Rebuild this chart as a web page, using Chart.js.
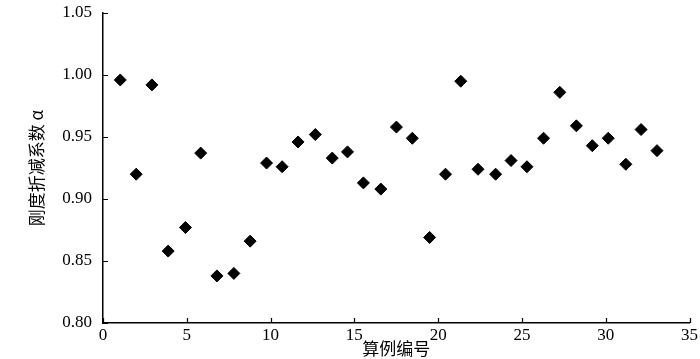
<!DOCTYPE html>
<html>
<head>
<meta charset="utf-8">
<script src="https://cdn.jsdelivr.net/npm/chart.js@4/dist/chart.umd.min.js"></script>
<style>
  html, body { margin: 0; padding: 0; background: #fff; }
  #wrap { width: 700px; height: 359px; }
</style>
</head>
<body>
<div id="wrap"><canvas id="mychart"></canvas></div>
<script>
// case numbers and stiffness reduction factor
const caseNo = [1.03, 1.98, 2.92, 3.89, 4.92, 5.83, 6.80, 7.81, 8.78, 9.76,
  10.69, 11.64, 12.67, 13.68, 14.59, 15.54, 16.58, 17.51, 18.46, 19.49,
  20.44, 21.35, 22.38, 23.43, 24.35, 25.30, 26.29, 27.26, 28.25, 29.20,
  30.15, 31.20, 32.11, 33.06];
const alphaVals = [0.996, 0.920, 0.992, 0.858, 0.877, 0.937, 0.838, 0.840, 0.866, 0.929,
  0.926, 0.946, 0.952, 0.933, 0.938, 0.913, 0.908, 0.958, 0.949, 0.869,
  0.920, 0.995, 0.924, 0.920, 0.931, 0.926, 0.949, 0.986, 0.959, 0.943,
  0.949, 0.928, 0.956, 0.939];
const xTicks = [0, 5, 10, 15, 20, 25, 30, 35];
const yTicks = [0.80, 0.85, 0.90, 0.95, 1.00, 1.05];

const points = caseNo.map((x, i) => ({ x: x, y: alphaVals[i] }));

// small tick marks pointing into the plot
const innerTicks = {
  id: "innerTicks",
  afterDraw(chart) {
    const c = chart.ctx;
    const xs = chart.scales.x, ys = chart.scales.y;
    c.save();
    c.strokeStyle = "#000";
    c.lineWidth = 1.2;
    c.beginPath();
    xTicks.forEach(v => {
      const px = Math.round(xs.getPixelForValue(v)) + 0.5;
      c.moveTo(px, ys.bottom);
      c.lineTo(px, ys.bottom - 5);
    });
    yTicks.forEach(v => {
      const py = Math.round(ys.getPixelForValue(v)) + 0.5;
      c.moveTo(xs.left, py);
      c.lineTo(xs.left + 5, py);
    });
    c.stroke();
    c.restore();
  }
};

const numFont = { family: "'Liberation Serif', 'DejaVu Serif', serif", size: 17 };
const cjkFont = { family: "'Noto Sans CJK SC', sans-serif", size: 17 };

const ctx = document.getElementById("mychart").getContext("2d");
new Chart(ctx, {
  type: "scatter",
  data: {
    datasets: [{
      data: points,
      pointStyle: "rectRot",
      pointRadius: 6,
      pointBackgroundColor: "#000",
      pointBorderColor: "#000",
      pointBorderWidth: 1,
    }],
  },
  options: {
    responsive: true,
    maintainAspectRatio: false,
    animation: false,
    layout: { padding: { left: 26, right: 3, top: 13, bottom: 0 } },
    plugins: { legend: { display: false }, tooltip: { enabled: false } },
    scales: {
      x: {
        type: "linear",
        min: 0,
        max: 35,
        afterFit(scale) { scale.height = 36; },
        afterBuildTicks(scale) { scale.ticks = xTicks.map(v => ({ value: v })); },
        grid: { display: false, drawTicks: false },
        border: { display: true, color: "#000", width: 1.5 },
        ticks: { color: "#000", font: numFont, padding: 2, maxRotation: 0 },
        title: { display: true, text: "算例编号", color: "#000", font: cjkFont, padding: 0 },
      },
      y: {
        type: "linear",
        min: 0.8,
        max: 1.05,
        afterFit(scale) {
          scale.width = 77;
          scale.paddingTop = 0;
          scale.paddingBottom = 0;
        },
        afterBuildTicks(scale) { scale.ticks = yTicks.map(v => ({ value: v })); },
        grid: { display: false, drawTicks: false },
        border: { display: true, color: "#000", width: 1.5 },
        ticks: { color: "#000", font: numFont, padding: 11, callback: v => Number(v).toFixed(2) },
        title: { display: true, text: "刚度折减系数 α", color: "#000", font: cjkFont, padding: 0 },
      },
    },
  },
  plugins: [innerTicks],
});
</script>
</body>
</html>
